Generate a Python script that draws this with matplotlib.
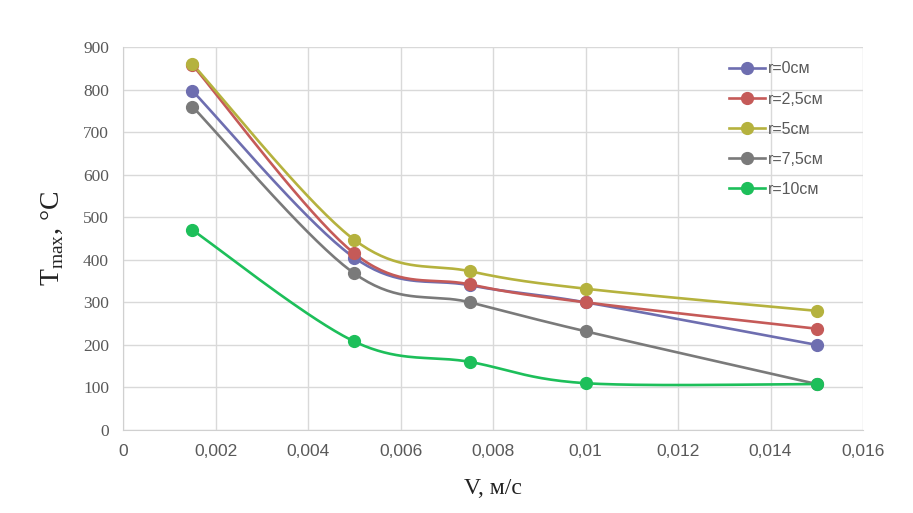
import numpy as np
import matplotlib
matplotlib.use("Agg")
import matplotlib.pyplot as plt
from matplotlib.ticker import FuncFormatter

# Flow velocity, m/s
velocity = [0.0015, 0.005, 0.0075, 0.01, 0.015]

# Maximum temperature (°C) for each radius
t_r0 = [797, 405, 340, 300, 200]
t_r25 = [858, 415, 342, 300, 238]
t_r5 = [860, 447, 373, 332, 280]
t_r75 = [760, 368, 300, 232, 108]
t_r10 = [470, 208, 160, 110, 108]

series_labels = ["r=0см", "r=2,5см", "r=5см", "r=7,5см", "r=10см"]
series_values = [t_r0, t_r25, t_r5, t_r75, t_r10]
series_colors = ["#6e6eb0", "#c55a58", "#b5b23e", "#7a7a7a", "#1dbf5a"]

x_ticks = [0, 0.002, 0.004, 0.006, 0.008, 0.01, 0.012, 0.014, 0.016]
y_ticks = [0, 100, 200, 300, 400, 500, 600, 700, 800, 900]


def smooth(x, y, n=40):
    """Smoothed curve through the points using cubic Bezier segments
    (Catmull-Rom style control points)."""
    x = np.asarray(x, float)
    y = np.asarray(y, float)
    px = np.concatenate([[x[0]], x, [x[-1]]])
    py = np.concatenate([[y[0]], y, [y[-1]]])
    xs, ys = [], []
    t = np.linspace(0, 1, n)
    for i in range(1, len(px) - 2):
        p0 = np.array([px[i], py[i]])
        p3 = np.array([px[i + 1], py[i + 1]])
        p1 = p0 + (np.array([px[i + 1], py[i + 1]]) - np.array([px[i - 1], py[i - 1]])) / 6
        p2 = p3 - (np.array([px[i + 2], py[i + 2]]) - np.array([px[i], py[i]])) / 6
        b = ((1 - t) ** 3)[:, None] * p0 + (3 * (1 - t) ** 2 * t)[:, None] * p1 \
            + (3 * (1 - t) * t ** 2)[:, None] * p2 + (t ** 3)[:, None] * p3
        xs.extend(b[:, 0])
        ys.extend(b[:, 1])
    return np.array(xs), np.array(ys)


fig = plt.figure(figsize=(9.13, 5.13), dpi=100)
ax = fig.add_axes([123 / 913, 1 - 430 / 513, (863 - 123) / 913, (430 - 47) / 513])

for lab, vals, col in zip(series_labels, series_values, series_colors):
    sx, sy = smooth(velocity, vals)
    ax.plot(sx, sy, color=col, lw=1.9, solid_capstyle="round", zorder=3)
    ax.plot(velocity, vals, ls="none", marker="o", ms=8.5, color=col, zorder=4)
    ax.plot([], [], color=col, lw=1.9, marker="o", ms=8.5, label=lab)

ax.set_xlim(0, 0.016)
ax.set_ylim(0, 900)
ax.set_xticks(x_ticks)
ax.set_yticks(y_ticks)
ax.xaxis.set_major_formatter(FuncFormatter(
    lambda v, p: "0" if v == 0 else ("%g" % v).replace(".", ",")))
ax.grid(True, color="#d9d9d9", lw=1)
ax.set_axisbelow(True)
for s in ["top", "right"]:
    ax.spines[s].set_visible(False)
for s in ["left", "bottom"]:
    ax.spines[s].set_color("#d0d0d0")
ax.tick_params(length=0, pad=10, colors="#595959")
for lbl in ax.get_xticklabels():
    lbl.set_fontfamily(["Liberation Sans", "DejaVu Sans"])
    lbl.set_fontsize(12.5)
for lbl in ax.get_yticklabels():
    lbl.set_fontfamily(["Liberation Serif", "DejaVu Serif"])
    lbl.set_fontsize(12.5)

ax.set_xlabel("V, м/с", fontsize=17, family=["Liberation Serif", "DejaVu Serif"],
              color="#222222", labelpad=14)
ax.set_ylabel(r"T$_{\mathregular{max}}$, °C", fontsize=20,
              family=["Liberation Serif", "DejaVu Serif"], color="#222222", labelpad=12)

leg = ax.legend(loc="upper left", bbox_to_anchor=(0.8, 1.0), frameon=False,
                handlelength=2.2, labelspacing=0.95, handletextpad=0.2,
                prop={"family": ["Liberation Sans", "DejaVu Sans"], "size": 11.5})
for t in leg.get_texts():
    t.set_color("#595959")

fig.savefig("out.png", dpi=100)
